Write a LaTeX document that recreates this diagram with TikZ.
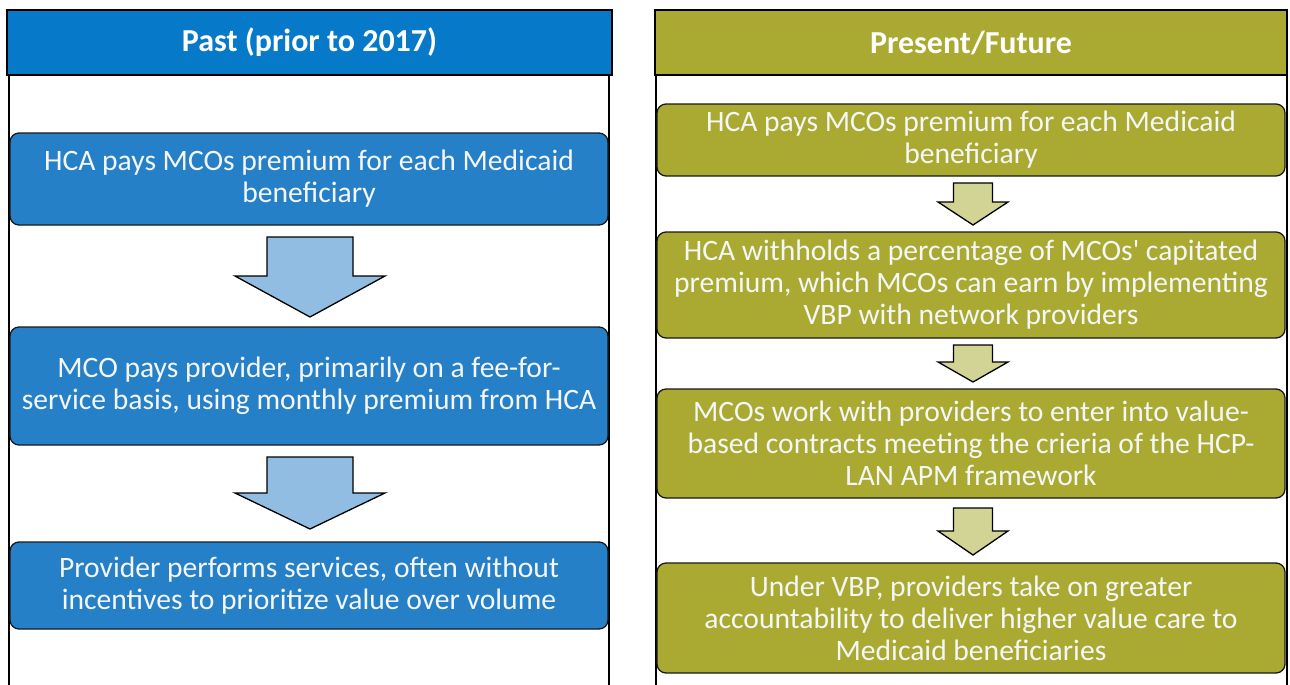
\documentclass[tikz,border=0pt]{standalone}
\usepackage{fontspec}
\setmainfont{Carlito}
\definecolor{hdrblue}{HTML}{0779C9}
\definecolor{boxblue}{HTML}{2680C8}
\definecolor{arrblue}{HTML}{92BDE2}
\definecolor{olive}{HTML}{AAAA33}
\definecolor{arrolive}{HTML}{D2D496}
\definecolor{txtwhite}{HTML}{F4F6F8}
\tikzset{
  hdr/.style={draw=black, line width=1.6pt, text=white, inner sep=0pt,
    font=\bfseries\fontsize{32}{36}\selectfont},
  panel/.style={draw=black, line width=1.4pt},
  stepbox/.style={draw=black!90, line width=1.3pt, rounded corners=9pt, align=center,
    text=txtwhite, inner sep=0pt, font=\fontsize{29.6}{32}\selectfont},
  pics/downarr/.style n args={5}{code={
    \draw[#5, line width=1.3pt, line join=miter]
      (-#1,0) -- (#1,0) -- (#1,#3) -- (#2,#3) -- (0,#4) -- (-#2,#3) -- (-#1,#3) -- cycle;
  }}
}
\begin{document}
\begin{tikzpicture}[x=1pt,y=-1pt]
\useasboundingbox (0,0) rectangle (1290,685);
% panels
\draw[panel] (9,685) -- (9,75) -- (609,75) -- (609,685);
\draw[panel] (656,685) -- (656,75) -- (1287,75) -- (1287,685);
% headers
\node[hdr, fill=hdrblue, minimum width=605pt, minimum height=65pt] (hL) at (309.5,42.5) {Past (prior to 2017)};
\node[hdr, fill=olive, minimum width=632pt, minimum height=65pt] (hR) at (971,42.5) {Present/Future};
% left boxes
\node[stepbox, fill=boxblue, minimum width=598pt, minimum height=92pt] (l1) at (309,179)
  {HCA pays MCOs premium for each Medicaid\\beneficiary};
\node[stepbox, fill=boxblue, minimum width=598pt, minimum height=118pt] (l2) at (309,386)
  {MCO pays provider, primarily on a fee-for-\\service basis, using monthly premium from HCA};
\node[stepbox, fill=boxblue, minimum width=598pt, minimum height=87pt] (l3) at (309,585.5)
  {Provider performs services, often without\\incentives to prioritize value over volume};
% left arrows
\pic at (310,237) {downarr={43}{75}{39}{80}{fill=arrblue,draw=black}};
\pic at (310,457) {downarr={43}{75}{36}{72}{fill=arrblue,draw=black}};
% right boxes
\node[stepbox, fill=olive, minimum width=628pt, minimum height=72pt] (r1) at (971,140)
  {HCA pays MCOs premium for each Medicaid\\beneficiary};
\node[stepbox, fill=olive, minimum width=628pt, minimum height=106pt] (r2) at (971,285)
  {HCA withholds a percentage of MCOs\textquotesingle\ capitated\\premium, which MCOs can earn by implementing\\VBP with network providers};
\node[stepbox, fill=olive, minimum width=628pt, minimum height=109pt] (r3) at (971,443.5)
  {MCOs work with providers to enter into value-\\based contracts meeting the crieria of the HCP-\\LAN APM framework};
\node[stepbox, fill=olive, minimum width=628pt, minimum height=110pt] (r4) at (971,618)
  {Under VBP, providers take on greater\\accountability to deliver higher value care to\\Medicaid beneficiaries};
% right arrows
\pic at (973,183) {downarr={19.5}{35}{19}{42}{fill=arrolive,draw=black}};
\pic at (973,345) {downarr={19.5}{35}{17}{37}{fill=arrolive,draw=black}};
\pic at (973,508) {downarr={19.5}{35}{23}{47}{fill=arrolive,draw=black}};
\end{tikzpicture}
\end{document}
